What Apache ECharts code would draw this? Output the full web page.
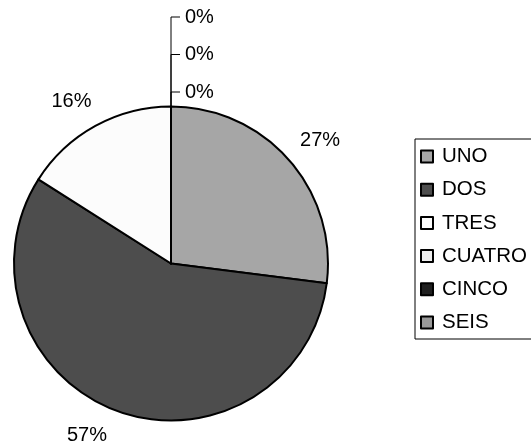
<!DOCTYPE html>
<html>
<head>
<meta charset="utf-8">
<script src="https://cdn.jsdelivr.net/npm/echarts@6/dist/echarts.min.js"></script>
<style>
html,body{margin:0;padding:0;background:#fff;}
#chart{width:531px;height:446px;}
</style>
</head>
<body>
<div id="chart"></div>
<script>
const categories = ['UNO', 'DOS', 'TRES', 'CUATRO', 'CINCO', 'SEIS'];
const values = [27, 57, 16, 0, 0, 0];
const colors = ['#a6a6a6', '#4d4d4d', '#fcfcfc', '#eeeeee', '#1f1f1f', '#999999'];

const FONT = '"Liberation Sans", Arial, sans-serif';
const zeroOrder = [];
values.forEach((v, i) => { if (v === 0) zeroOrder.push(i); });
// small nudges of outer labels (layout only)
const labelNudge = { 0: [5, 3.5], 1: [-19, -9], 2: [-7, 6] };

const mainData = categories.map((name, i) => ({
  name: name,
  value: values[i],
  itemStyle: { color: colors[i] },
  label: { show: values[i] === 0 },
  labelLine: { show: values[i] === 0 }
}));
const ringData = categories.map((name, i) => ({
  name: name,
  value: values[i],
  label: { show: values[i] !== 0 }
}));

const chart = echarts.init(document.getElementById('chart'), null, { renderer: 'canvas' });
chart.setOption({
  animation: false,
  backgroundColor: '#ffffff',
  legend: {
    orient: 'vertical',
    left: 415,
    top: 139,
    data: categories,
    icon: 'rect',
    itemWidth: 12,
    itemHeight: 12,
    itemGap: 12.2,
    padding: [7, 20, 6, 5],
    borderColor: '#000',
    borderWidth: 1,
    selectedMode: false,
    itemStyle: { borderColor: '#000', borderWidth: 2 },
    textStyle: { fontFamily: FONT, fontSize: 20.5, color: '#000', padding: [0, 0, 0, 4] }
  },
  series: [
    {
      type: 'pie',
      name: 'main',
      center: [171, 263.5],
      radius: 157,
      startAngle: 90,
      clockwise: true,
      avoidLabelOverlap: false,
      silent: true,
      data: mainData,
      itemStyle: { borderColor: '#000', borderWidth: 2 },
      label: {
        position: 'outside',
        formatter: '{d}%',
        fontFamily: FONT,
        fontSize: 20,
        color: '#000'
      },
      labelLine: { lineStyle: { color: '#000', width: 1 }, length: 10, length2: 10 },
      labelLayout: function (params) {
        const k = zeroOrder.indexOf(params.dataIndex);
        if (k < 0) return {};
        const ax = params.rect.x + params.rect.width / 2;
        const ay = params.rect.y;
        const ly = ay - 13.5 - 37.5 * k;
        return {
          x: ax + 14,
          y: ly,
          align: 'left',
          verticalAlign: 'middle',
          labelLinePoints: [[ax, ay], [ax, ly], [ax + 9, ly]]
        };
      }
    },
    {
      type: 'pie',
      name: 'labels',
      center: [171, 263.5],
      radius: [172, 206],
      startAngle: 90,
      clockwise: true,
      silent: true,
      legendHoverLink: false,
      data: ringData,
      itemStyle: { color: 'rgba(0,0,0,0)', borderWidth: 0 },
      label: {
        position: 'inside',
        formatter: '{d}%',
        fontFamily: FONT,
        fontSize: 20,
        color: '#000'
      },
      labelLine: { show: false },
      labelLayout: function (params) {
        const n = labelNudge[params.dataIndex];
        return n ? { dx: n[0], dy: n[1] } : {};
      }
    }
  ]
});
</script>
</body>
</html>
